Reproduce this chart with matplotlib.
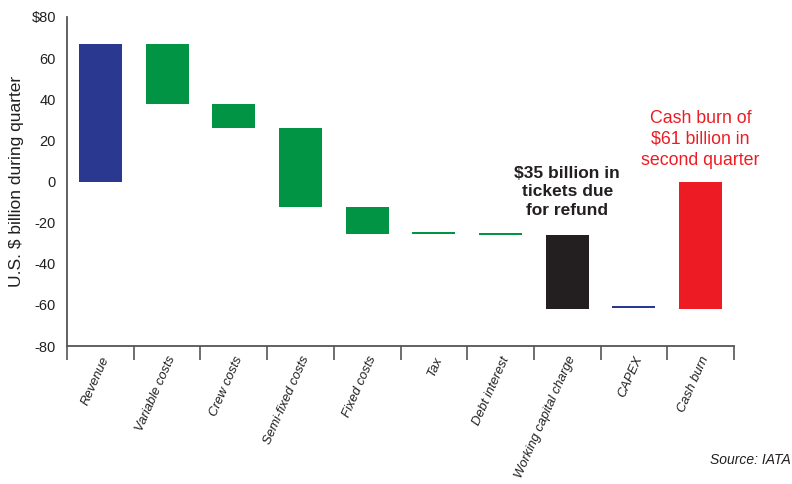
import matplotlib.pyplot as plt
import numpy as np

plt.rcParams["font.family"] = ["Liberation Sans", "DejaVu Sans"]

# waterfall steps: start and end level of each bar (US$ billion)
categories = ["Revenue", "Variable costs", "Crew costs", "Semi-fixed costs", "Fixed costs",
              "Tax", "Debt interest", "Working capital charge", "CAPEX", "Cash burn"]
bar_start = [0.0, 67.0, 37.5, 25.8, -12.2, -24.6, -25.1, -26.1, -60.6, 0.0]
bar_end = [67.0, 37.5, 25.8, -12.2, -25.3, -25.6, -26.1, -62.1, -61.4, -62.1]
bar_colors = ["#2B388F", "#009444", "#009444", "#009444", "#009444",
              "#009444", "#009444", "#231F20", "#2B388F", "#ED1C24"]
yticks = [-80, -60, -40, -20, 0, 20, 40, 60, 80]
ytick_labels = ["-80", "-60", "-40", "-20", "0", "20", "40", "60", "$80"]

fig = plt.figure(figsize=(7.92, 4.84), dpi=100)
ax = fig.add_axes([0.0846, 0.285, 0.8422, 0.68])

x = np.arange(len(categories))
bottoms = np.minimum(bar_start, bar_end)
heights = np.abs(np.array(bar_end) - np.array(bar_start))
ax.bar(x, heights, bottom=bottoms, width=0.645, color=bar_colors, linewidth=0)

ax.set_xlim(-0.5, len(categories) - 0.5)
ax.set_ylim(-80, 80)

for s in ("top", "right"):
    ax.spines[s].set_visible(False)
for s in ("left", "bottom"):
    ax.spines[s].set_color("#555555")
    ax.spines[s].set_linewidth(1.3)

ax.set_yticks(yticks)
ax.set_yticklabels(ytick_labels, fontsize=10.5, color="#231F20")
ax.tick_params(axis="y", length=0, pad=8)

ax.set_xticks(np.arange(-0.5, len(categories), 1.0))
ax.set_xticklabels([])
ax.tick_params(axis="x", which="major", length=10, width=1.2, color="#555555")
ax.set_xticks(x, minor=True)
ax.set_xticklabels(categories, minor=True, rotation=66, ha="right", va="top",
                   rotation_mode="anchor", fontsize=9.4, style="italic", color="#231F20")
ax.tick_params(axis="x", which="minor", length=0, pad=6)

ax.set_ylabel("U.S. $ billion during quarter", fontsize=12.5, color="#231F20", labelpad=5)

ax.text(7.0, -5, "$35 billion in\ntickets due\nfor refund", ha="center", va="center",
        fontsize=12.5, fontweight="bold", color="#231F20", linespacing=1.3)
ax.text(9.0, 20.5, "Cash burn of\n$61 billion in\nsecond quarter", ha="center", va="center",
        fontsize=12.8, color="#ED1C24", linespacing=1.3)

fig.text(0.998, 0.05, "Source: IATA", ha="right", va="center", fontsize=10,
         style="italic", color="#231F20")

fig.savefig("out.png", dpi=100)
